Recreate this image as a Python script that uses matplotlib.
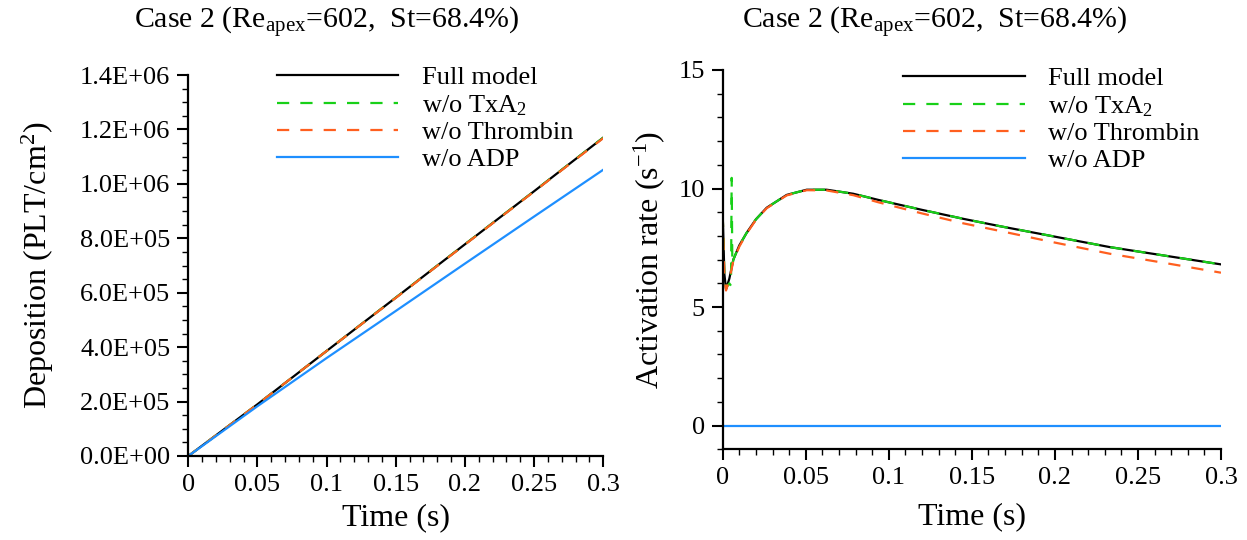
import matplotlib
matplotlib.use("Agg")
import matplotlib.pyplot as plt
from matplotlib.ticker import MultipleLocator, FuncFormatter

plt.rcParams['font.family'] = ['Liberation Serif', 'DejaVu Serif']
plt.rcParams['mathtext.fontset'] = 'custom'
plt.rcParams['mathtext.rm'] = 'Liberation Serif'
plt.rcParams['mathtext.it'] = 'Liberation Serif:italic'

# ---------------- data ----------------
title_text = "Case 2 (Re$_{\\mathrm{apex}}$=602,  St=68.4%)"
series_labels = ["Full model", "w/o TxA$_2$", "w/o Thrombin", "w/o ADP"]

# Left panel: deposition (PLT/cm^2)
t_dep = [0, 0.05, 0.1, 0.15, 0.2, 0.25, 0.3]
dep_full = [0, 1.90e5, 3.86e5, 5.82e5, 7.78e5, 9.73e5, 1.170e6]
dep_txa2 = [0, 1.90e5, 3.86e5, 5.82e5, 7.78e5, 9.73e5, 1.170e6]
dep_thrombin = [0, 1.90e5, 3.86e5, 5.81e5, 7.77e5, 9.72e5, 1.168e6]
dep_adp = [0, 1.83e5, 3.60e5, 5.33e5, 7.07e5, 8.80e5, 1.052e6]

# Right panel: activation rate (1/s)
t_act = [0, 0.001, 0.002, 0.004, 0.0064, 0.01, 0.0144, 0.02, 0.0265, 0.0385,
         0.0506, 0.0626, 0.0786, 0.0937, 0.12, 0.145, 0.167, 0.2, 0.233, 0.267, 0.3]
act_full = [8.9, 6.4, 5.75, 6.2, 7.0, 7.6, 8.13, 8.7, 9.19, 9.73,
            9.95, 9.95, 9.78, 9.52, 9.10, 8.72, 8.41, 7.97, 7.53, 7.16, 6.80]
act_thrombin = [8.9, 6.3, 5.70, 6.15, 6.95, 7.55, 8.10, 8.68, 9.17, 9.71,
                9.93, 9.92, 9.72, 9.42, 8.95, 8.53, 8.21, 7.72, 7.25, 6.85, 6.45]
t_act_txa2 = [0, 0.001, 0.002, 0.004, 0.0050, 0.0054, 0.0058, 0.0064, 0.01, 0.0144,
              0.02, 0.0265, 0.0385, 0.0506, 0.0626, 0.0786, 0.0937, 0.12, 0.145,
              0.167, 0.2, 0.233, 0.267, 0.3]
act_txa2 = [8.9, 6.4, 5.80, 6.0, 5.90, 10.45, 6.75, 7.0, 7.6, 8.13,
            8.7, 9.19, 9.73, 9.95, 9.95, 9.78, 9.52, 9.10, 8.72,
            8.41, 7.97, 7.53, 7.16, 6.80]
act_adp = [0.0] * len(t_act)

# ---------------- style ----------------
c_full, c_txa2, c_thr, c_adp = 'black', '#18d018', '#ff5f1f', '#1e8fff'
dash = (0, (5.5, 5))
lw = 1.6
tick_fs = 19
label_fs = 23

fig = plt.figure(figsize=(12.47, 5.40), dpi=100)
W, H = 1247, 540

def axes_px(x0, x1, ytop, ybot):
    return fig.add_axes([x0 / W, 1 - ybot / H, (x1 - x0) / W, (ybot - ytop) / H])

ax1 = axes_px(188.3, 603.3, 75, 456)
ax2 = axes_px(722.7, 1221, 70, 449.3)

for ax in (ax1, ax2):
    for s in ('top', 'right'):
        ax.spines[s].set_visible(False)
    for s in ('left', 'bottom'):
        ax.spines[s].set_linewidth(1.6)
    ax.tick_params(which='major', direction='out', length=8, width=1.5,
                   labelsize=tick_fs, pad=5)
    ax.tick_params(which='minor', direction='out', length=4.5, width=1.0)
    ax.set_xlim(0, 0.3)
    ax.xaxis.set_major_locator(MultipleLocator(0.05))
    ax.xaxis.set_minor_locator(MultipleLocator(0.01))
    ax.xaxis.set_major_formatter(FuncFormatter(lambda v, p: f"{v:g}"))

ax1.set_xlabel("Time (s)", fontsize=label_fs, labelpad=5)
ax2.set_xlabel("Time (s)", fontsize=label_fs, labelpad=9)

# left
ax1.plot(t_dep, dep_full, color=c_full, lw=lw, label=series_labels[0])
ax1.plot(t_dep, dep_txa2, color=c_txa2, lw=lw, ls=dash, label=series_labels[1])
ax1.plot(t_dep, dep_thrombin, color=c_thr, lw=lw, ls=dash, label=series_labels[2])
ax1.plot(t_dep, dep_adp, color=c_adp, lw=lw, label=series_labels[3])
ax1.set_ylim(0, 1.4e6)
ax1.yaxis.set_major_locator(MultipleLocator(2e5))
ax1.yaxis.set_minor_locator(MultipleLocator(5e4))
ax1.yaxis.set_major_formatter(FuncFormatter(lambda v, p: f"{v:.1E}"))
ax1.set_ylabel("Deposition (PLT/cm$^2$)", fontsize=label_fs, labelpad=17)

# right
ax2.plot(t_act, act_full, color=c_full, lw=lw, label=series_labels[0])
ax2.plot(t_act_txa2, act_txa2, color=c_txa2, lw=lw, ls=dash, label=series_labels[1])
ax2.plot(t_act, act_thrombin, color=c_thr, lw=lw, ls=dash, label=series_labels[2])
ax2.plot(t_act, act_adp, color=c_adp, lw=lw, label=series_labels[3])
ax2.set_ylim(-1, 15)
ax2.yaxis.set_major_locator(MultipleLocator(5))
ax2.yaxis.set_minor_locator(MultipleLocator(1))
ax2.set_ylabel("Activation rate (s$^{-1}$)", fontsize=label_fs, labelpad=8)

for ax, (lx, ly) in ((ax1, (276.7, 66)), (ax2, (903.3, 67))):
    ax.legend(loc='upper left', bbox_to_anchor=(lx / W, 1 - ly / H),
              bbox_transform=fig.transFigure, frameon=False, fontsize=tick_fs,
              handlelength=4.6, handletextpad=0.9, labelspacing=0.13,
              borderpad=0, borderaxespad=0)

fig.text(327 / W, 1 - 22 / H, title_text, fontsize=21.5, ha='center', va='center')
fig.text(935 / W, 1 - 22 / H, title_text, fontsize=21.5, ha='center', va='center')

fig.savefig("out.png", dpi=100)
